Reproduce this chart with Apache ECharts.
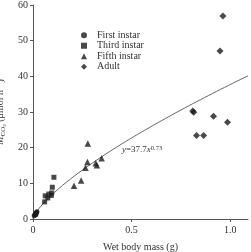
<!DOCTYPE html>
<html>
<head>
<meta charset="utf-8">
<script src="https://cdn.jsdelivr.net/npm/echarts@6/dist/echarts.min.js"></script>
<style>html,body{margin:0;padding:0;background:#fff}#c{width:251px;height:252px}</style>
</head>
<body>
<div id="c"></div>
<script>
// ---- data ----
const firstInstar = [[0.006,0.9],[0.009,1.1],[0.011,1.3],[0.013,1.5],[0.015,1.2],[0.016,1.7],[0.018,1.9],[0.02,2.0]];
const thirdInstar = [[0.059,4.8],[0.062,6.5],[0.075,5.9],[0.08,7.0],[0.093,6.6],[0.095,7.3],[0.098,8.9],[0.106,11.7]];
const fifthInstar = [[0.208,9.3],[0.244,10.8],[0.266,14.4],[0.276,16.0],[0.278,21.2],[0.318,15.6],[0.324,15.1],[0.348,17.0]];
const adult = [[0.81,30.3],[0.815,29.9],[0.829,23.4],[0.865,23.4],[0.915,28.8],[0.948,47.1],[0.963,56.9],[0.986,27.1]];
const fitA = 37.7, fitB = 0.73;             // y = 37.7 x^0.73 (as printed on the chart)
const xTicks = [0, 0.5, 1.0];
const xTickLabels = ['0', '0.5', '1.0'];
const yMin = 0, yMax = 60, yStep = 10;
const xMin = 0, xMax = 1.09;
const seriesNames = ['First instar', 'Third instar', 'Fifth instar', 'Adult'];

// fitted curve from its printed equation
const fitCurve = [];
for (let i = 0; i <= 109; i++) { const x = i / 100; fitCurve.push([x, fitA * Math.pow(x, fitB)]); }

const ink = '#1c1c1c', txt = '#333', serif = '"Liberation Serif","DejaVu Serif",serif';
const chart = echarts.init(document.getElementById('c'), null, {renderer: 'canvas'});
chart.setOption({
  animation: false,
  grid: {left: 33, right: 3, top: 5, bottom: 33, containLabel: false, outerBoundsMode: 'none'},
  legend: {
    orient: 'vertical', left: 76, top: 25, itemWidth: 6, itemHeight: 6, itemGap: 0,
    data: seriesNames,
    textStyle: {fontFamily: serif, fontSize: 10, color: txt, lineHeight: 10.5, padding: [0,0,0,5]}
  },
  xAxis: {
    type: 'value', min: xMin, max: xMax, interval: 0.5,
    name: 'Wet body mass (g)', nameLocation: 'middle', nameGap: 23,
    nameTextStyle: {fontFamily: serif, fontSize: 10, color: txt},
    splitLine: {show: false},
    axisLine: {lineStyle: {color: '#555', width: 1}},
    axisTick: {customValues: xTicks, length: 3, lineStyle: {color: '#555'}},
    axisLabel: {customValues: xTicks, margin: 6, fontFamily: serif, fontSize: 10, color: txt,
      formatter: v => { const k = xTicks.findIndex(t => Math.abs(t - v) < 1e-6); return k >= 0 ? xTickLabels[k] : ''; }}
  },
  yAxis: {
    type: 'value', min: yMin, max: yMax, interval: yStep,
    name: '{i|Ṁ}{sub|CO}{sub2|2}{n| (μmol h}{sup|−1}{n|)}', nameLocation: 'middle', nameGap: 18,
    nameTextStyle: {fontFamily: serif, fontSize: 10, color: txt, lineHeight: 14,
      rich: {
        i: {fontFamily: serif, fontSize: 10, fontStyle: 'italic', color: txt, verticalAlign: 'middle'},
        sub: {fontFamily: serif, fontSize: 7, color: txt, verticalAlign: 'bottom'},
        sub2: {fontFamily: serif, fontSize: 5, color: txt, verticalAlign: 'bottom'},
        n: {fontFamily: serif, fontSize: 10, color: txt, verticalAlign: 'middle'},
        sup: {fontFamily: serif, fontSize: 7, color: txt, verticalAlign: 'top'}
      }},
    splitLine: {show: false},
    axisLine: {show: true, lineStyle: {color: '#555', width: 1}},
    axisTick: {show: true, length: 3, lineStyle: {color: '#555'}},
    axisLabel: {margin: 5, fontFamily: serif, fontSize: 10, color: txt}
  },
  graphic: [{
    type: 'text', left: 122, top: 145, z: 10,
    style: {
      text: '{i|y}{n|=37.7}{i|x}{sup|0.73}', fill: txt,
      rich: {
        i: {fontFamily: serif, fontSize: 9, fontStyle: 'italic', fill: txt, verticalAlign: 'bottom'},
        n: {fontFamily: serif, fontSize: 9, fill: txt, verticalAlign: 'bottom'},
        sup: {fontFamily: serif, fontSize: 6.5, fill: txt, verticalAlign: 'top'}
      }
    }
  }],
  series: [
    {name: 'fit', type: 'line', data: fitCurve, showSymbol: false, symbol: 'none', silent: true,
      lineStyle: {color: '#555', width: 0.9}, z: 1},
    {name: seriesNames[0], type: 'scatter', data: firstInstar, symbol: 'circle', symbolSize: 5, itemStyle: {color: ink}},
    {name: seriesNames[1], type: 'scatter', data: thirdInstar, symbol: 'rect', symbolSize: 5, itemStyle: {color: ink}},
    {name: seriesNames[2], type: 'scatter', data: fifthInstar, symbol: 'triangle', symbolSize: 6.5, itemStyle: {color: ink}},
    {name: seriesNames[3], type: 'scatter', data: adult, symbol: 'diamond', symbolSize: 7, itemStyle: {color: ink}}
  ]
});
</script>
</body>
</html>
